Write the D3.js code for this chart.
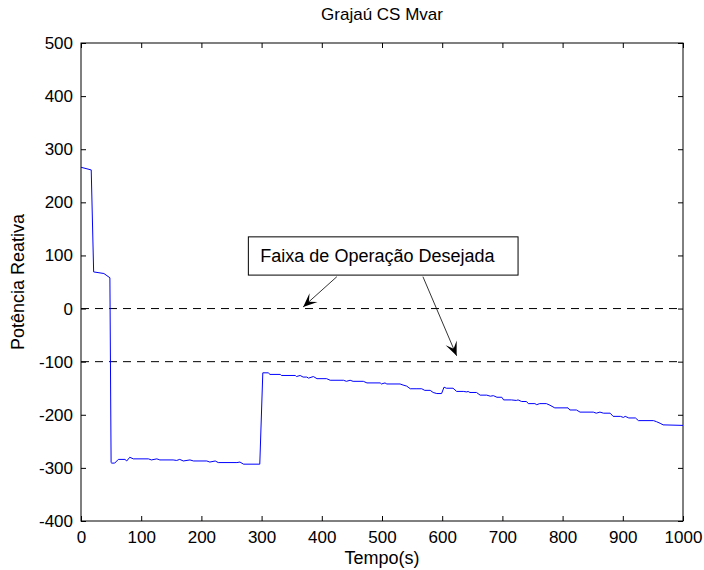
<!DOCTYPE html>
<html>
<head>
<meta charset="utf-8">
<title>Grajaú CS Mvar</title>
<style>
  body { margin: 0; background: #fff; }
  text { font-family: "Liberation Sans", Arial, sans-serif; fill: #000; }
</style>
</head>
<body>
<svg id="svg"></svg>
<script src="https://d3js.org/d3.v7.min.js"></script>
<script>
    // time (s) and reactive power (Mvar)
    const tempo = [0, 17, 21, 38, 48, 50,
        51, 56, 62, 73, 76, 81, 87, 112, 117, 126, 131, 153, 159, 164, 170, 181, 187, 209, 214, 223, 228, 259, 264, 270, 297,
        302, 311, 314, 331, 333, 356, 358, 364, 369, 375, 378, 386, 392, 408, 414, 436, 441, 447, 452, 469, 475, 497, 499,
        505, 508, 530, 535, 541, 547, 558, 566, 571, 580, 585, 591, 599, 603, 607, 618, 624, 635, 641, 643, 646, 657, 663,
        674, 680, 685, 691, 699, 702, 715, 723, 726, 732, 740, 743, 754, 757, 762, 773, 779, 787, 809, 812, 823, 829, 851,
        856, 862, 868, 879, 884, 896, 901, 904, 910, 921, 926, 951, 956, 962, 967, 1000];
    const potencia = [266, 261, 69, 66, 58, -290,
        -291, -291, -284, -284, -287, -280, -283, -283, -285, -283, -285, -285, -286, -284, -287, -285, -287, -287, -289, -287, -290, -290, -289, -293, -293,
        -121, -121, -124, -124, -126, -126, -128, -126, -129, -129, -131, -128, -132, -132, -135, -135, -137, -135, -137, -137, -140, -140, -142,
        -140, -142, -142, -144, -146, -151, -151, -151, -154, -154, -158, -160, -160, -148, -150, -150, -156, -156, -157, -156, -158, -158, -163,
        -163, -165, -164, -167, -167, -172, -172, -173, -172, -175, -175, -179, -179, -181, -179, -179, -182, -187, -187, -191, -191, -195, -195,
        -197, -195, -197, -197, -203, -203, -205, -203, -206, -206, -211, -211, -213, -216, -219, -220];

    const xTicks = [0, 100, 200, 300, 400, 500, 600, 700, 800, 900, 1000];
    const yTicks = [-400, -300, -200, -100, 0, 100, 200, 300, 400, 500];
    const faixa = [0, -100];   // desired operating band limits

    // annotation (data units): box corners, arrow starts and tips
    const caixa = {t0: 278, t1: 726, v0: 135, v1: 63, texto: "Faixa de Operação Desejada"};
    const setas = [
        {from: [425, 60], to: [369, 3]},
        {from: [568, 60], to: [624, -89]}
    ];

    const W = 704, H = 570;
    const margin = {top: 43, right: 21, bottom: 49, left: 81};
    const w = W - margin.left - margin.right;
    const h = H - margin.top - margin.bottom;

    const svg = d3.select("#svg").attr("width", W).attr("height", H);
    const g = svg.append("g").attr("transform", "translate(" + margin.left + "," + margin.top + ")");

    const x = d3.scaleLinear().domain([0, 1000]).range([0, w]);
    const y = d3.scaleLinear().domain([-400, 500]).range([h, 0]);
    const fmt = function(d) { return String(d); };

    // axes, ticks pointing inward on all four sides
    const tk = 5;
    g.append("g").attr("transform", "translate(0," + h + ")")
        .call(d3.axisBottom(x).tickValues(xTicks).tickFormat(fmt).tickSizeInner(-tk).tickSizeOuter(0).tickPadding(10));
    g.append("g")
        .call(d3.axisTop(x).tickValues(xTicks).tickSizeInner(-tk).tickSizeOuter(0).tickFormat(""));
    g.append("g")
        .call(d3.axisLeft(y).tickValues(yTicks).tickFormat(fmt).tickSizeInner(-tk).tickSizeOuter(0).tickPadding(8));
    g.append("g").attr("transform", "translate(" + w + ",0)")
        .call(d3.axisRight(y).tickValues(yTicks).tickSizeInner(-tk).tickSizeOuter(0).tickFormat(""));

    g.selectAll(".domain").remove();
    g.selectAll(".tick line").attr("stroke", "#000");
    g.selectAll(".tick text").style("font-size", "17px").style("font-family", "Liberation Sans, Arial, sans-serif");

    g.append("rect").attr("width", w).attr("height", h)
        .attr("fill", "none").attr("stroke", "#000").attr("stroke-width", 1);

    // dashed band lines
    g.selectAll("line.faixa").data(faixa).enter().append("line")
        .attr("class", "faixa")
        .attr("x1", 0).attr("x2", w)
        .attr("y1", function(d) { return y(d); }).attr("y2", function(d) { return y(d); })
        .attr("stroke", "#000").attr("stroke-dasharray", "8,6");

    // data line
    const line = d3.line()
        .x(function(d, i) { return x(tempo[i]); })
        .y(function(d) { return y(d); });
    g.append("path").datum(potencia)
        .attr("d", line)
        .attr("fill", "none").attr("stroke", "#0000ff").attr("stroke-width", 1);

    // annotation box
    g.append("rect")
        .attr("x", x(caixa.t0)).attr("y", y(caixa.v0))
        .attr("width", x(caixa.t1) - x(caixa.t0)).attr("height", y(caixa.v1) - y(caixa.v0))
        .attr("fill", "#fff").attr("stroke", "#000");
    g.append("text")
        .attr("x", x(caixa.t0) + 12).attr("y", (y(caixa.v0) + y(caixa.v1)) / 2 + 6)
        .style("font-size", "18px")
        .text(caixa.texto);

    // arrows
    setas.forEach(function(s) {
        const x1 = x(s.from[0]), y1 = y(s.from[1]), x2 = x(s.to[0]), y2 = y(s.to[1]);
        const a = Math.atan2(y2 - y1, x2 - x1);
        const L = 14, half = 6;
        g.append("line").attr("x1", x1).attr("y1", y1).attr("x2", x2).attr("y2", y2)
            .attr("stroke", "#000").attr("stroke-width", 0.8);
        const bx = x2 - L * Math.cos(a), by = y2 - L * Math.sin(a);
        const nx = -Math.sin(a), ny = Math.cos(a);
        const mx = x2 - L * 0.55 * Math.cos(a), my = y2 - L * 0.55 * Math.sin(a);
        const pts = [[x2, y2], [bx + nx * half, by + ny * half], [mx, my], [bx - nx * half, by - ny * half]];
        g.append("path").attr("d", "M" + pts.join("L") + "Z").attr("fill", "#000");
    });

    // titles
    svg.append("text").attr("x", margin.left + w / 2).attr("y", 20)
        .attr("text-anchor", "middle").style("font-size", "17px").text("Grajaú CS Mvar");
    svg.append("text").attr("x", margin.left + w / 2).attr("y", 564)
        .attr("text-anchor", "middle").style("font-size", "18px").text("Tempo(s)");
    svg.append("text")
        .attr("transform", "translate(24," + (margin.top + h / 2) + ")rotate(-90)")
        .attr("text-anchor", "middle").style("font-size", "18px").text("Potência Reativa");
</script>
</body>
</html>
